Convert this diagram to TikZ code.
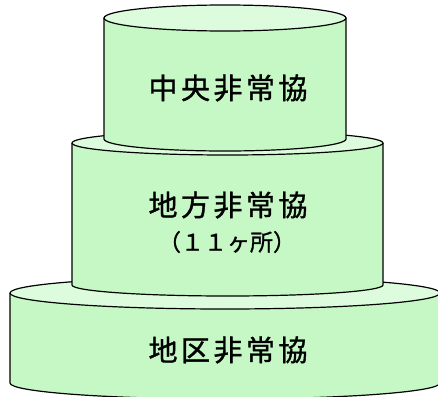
\documentclass[tikz,border=0pt]{standalone}
\usepackage{fontspec}
\newfontfamily\jpfont{Noto Sans CJK JP}[FakeBold=1.2]
\newfontfamily\jpspaced{Noto Sans CJK JP}[LetterSpace=12,FakeBold=1.2]
\definecolor{bodygreen}{RGB}{198,248,198}
\definecolor{topgreen}{RGB}{221,251,221}
\tikzset{
  outline/.style={draw=black, line width=1.2pt},
  tierlabel/.style={font=\jpspaced\fontsize{29pt}{33pt}\selectfont, inner sep=0pt},
  sublabel/.style={font=\jpfont\fontsize{23pt}{27pt}\selectfont, inner sep=0pt}
}
% cylinder: cx, rx, ytop, rytop, ybot, rybot
\newcommand{\tiercyl}[6]{%
  \fill[bodygreen] (#1pt-#2pt,-#3pt) -- (#1pt-#2pt,-#5pt)
     arc[start angle=180,end angle=360,x radius=#2pt,y radius=#6pt]
     -- (#1pt+#2pt,-#3pt) -- cycle;
  \draw[outline] (#1pt-#2pt,-#3pt) -- (#1pt-#2pt,-#5pt)
     arc[start angle=180,end angle=360,x radius=#2pt,y radius=#6pt]
     -- (#1pt+#2pt,-#3pt);
  \filldraw[outline, fill=topgreen] (#1pt,-#3pt) ellipse[x radius=#2pt, y radius=#4pt];
}
\begin{document}
\begin{tikzpicture}
\useasboundingbox (0pt,0pt) rectangle (438pt,-396pt);
\clip (0pt,0pt) rectangle (438pt,-396pt);
\tiercyl{225}{215}{293}{16}{383}{16}
\tiercyl{227.5}{155.5}{143}{12}{285}{11}
\tiercyl{225}{121}{18}{13}{139}{12}
\node[tierlabel] (central) at (228pt,-88pt) {中央非常協};
\node[tierlabel] (regional) at (228pt,-205pt) {地方非常協};
\node[sublabel] (count) at (227pt,-242pt) {（１１ヶ所）};
\node[tierlabel] (district) at (228pt,-350pt) {地区非常協};
\end{tikzpicture}
\end{document}
